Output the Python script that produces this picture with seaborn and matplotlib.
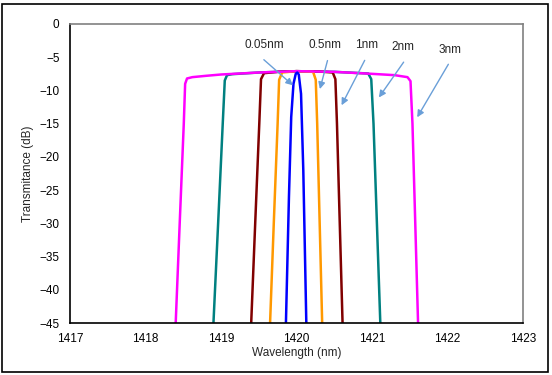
# Espectro de transmitancia de filtros (0.05nm - 3nm)
import matplotlib
matplotlib.use("Agg")
import matplotlib.pyplot as plt
from matplotlib.patches import Rectangle
import seaborn as sns
import pandas as pd

# Datos
x_3nm = [1418.40, 1418.453, 1418.507, 1418.525, 1418.55, 1418.62, 1418.8, 1419.0, 1419.5, 1420.0, 1420.5, 1421.0, 1421.3, 1421.47, 1421.51, 1421.536, 1421.573, 1421.61]
y_3nm = [-45.0, -30.0, -15.0, -9.0, -8.2, -8.0, -7.8, -7.6, -7.3, -7.1, -7.2, -7.5, -7.7, -8.0, -8.6, -15.0, -30.0, -45.0]

x_2nm = [1418.90, 1418.962, 1419.023, 1419.05, 1419.08, 1419.15, 1419.5, 1420.0, 1420.5, 1420.95, 1420.99, 1421.02, 1421.065, 1421.11]
y_2nm = [-45.0, -30.0, -15.0, -8.5, -7.7, -7.55, -7.3, -7.1, -7.2, -7.45, -8.3, -15.0, -30.0, -45.0]

x_1nm = [1419.40, 1419.453, 1419.507, 1419.53, 1419.57, 1419.75, 1420.0, 1420.3, 1420.48, 1420.515, 1420.536, 1420.573, 1420.61]
y_1nm = [-45.0, -30.0, -15.0, -8.3, -7.4, -7.2, -7.1, -7.15, -7.3, -8.3, -15.0, -30.0, -45.0]

x_05nm = [1419.65, 1419.699, 1419.75, 1419.77, 1419.81, 1420.0, 1420.22, 1420.255, 1420.274, 1420.307, 1420.34]
y_05nm = [-45.0, -30.0, -15.0, -8.4, -7.3, -7.1, -7.2, -8.4, -15.0, -30.0, -45.0]

x_005nm = [1419.86, 1419.90, 1419.93, 1419.96, 1419.99, 1420.01, 1420.03, 1420.06, 1420.09, 1420.13]
y_005nm = [-45.0, -26.0, -14.0, -9.0, -7.5, -7.3, -7.6, -10.5, -22.0, -45.0]

# Etiquetas: (texto, posicion texto, cola flecha, punta flecha)
etiquetas = ["0.05nm", "0.5nm", "1nm", "2nm", "3nm"]
texto_xy = [(1419.58, -3.2), (1420.38, -3.2), (1420.93, -3.2), (1421.41, -3.5), (1422.03, -3.9)]
cola_xy = [(1419.54, -5.1), (1420.42, -5.1), (1420.92, -5.1), (1421.44, -5.4), (1422.03, -5.7)]
punta_xy = [(1419.98, -9.5), (1420.30, -10.2), (1420.58, -12.6), (1421.07, -11.4), (1421.58, -14.4)]

# Orden de dibujo: magenta encima de las demas, azul al final
series = [
    (x_2nm, y_2nm, "#008080"),
    (x_1nm, y_1nm, "#800000"),
    (x_05nm, y_05nm, "#ff9900"),
    (x_3nm, y_3nm, "#ff00ff"),
    (x_005nm, y_005nm, "#0000ff"),
]

sns.set_style("white")
plt.rcParams['font.family'] = ['Liberation Sans', 'DejaVu Sans']

fig = plt.figure(figsize=(5.52, 3.75), dpi=100)
ax = fig.add_axes([70/552, 1 - 323/375, (523 - 70)/552, (323 - 24)/375])

for xs, ys, color in series:
    df = pd.DataFrame({"x": xs, "y": ys})
    sns.lineplot(data=df, x="x", y="y", sort=False, color=color, linewidth=1.8, ax=ax)

ax.set_xlim(1417, 1423)
ax.set_ylim(-45, 0)
ax.set_xticks(range(1417, 1424))
ax.set_yticks(range(-45, 1, 5))
ax.tick_params(direction='inout', length=7, width=1, labelsize=8.5, colors='black', pad=4)
ax.set_xlabel("Wavelength (nm)", fontsize=8.5, labelpad=1)
ax.set_ylabel("Transmitance (dB)", fontsize=8.5, labelpad=4)

for lado in ['left', 'bottom']:
    ax.spines[lado].set_color('black')
    ax.spines[lado].set_linewidth(1.2)
for lado in ['top', 'right']:
    ax.spines[lado].set_color('#808080')
    ax.spines[lado].set_linewidth(1.2)

for txt, pos, cola, punta in zip(etiquetas, texto_xy, cola_xy, punta_xy):
    ax.text(pos[0], pos[1], txt, fontsize=8.5, ha='center', va='center')
    ax.annotate('', xy=punta, xytext=cola,
                arrowprops=dict(arrowstyle='-|>', color='#6a9fd8', lw=1, mutation_scale=10))

# Borde exterior del grafico
fig.patches.append(Rectangle((2/552, 1 - 372/375), 546/552, 368/375, fill=False,
                             edgecolor='black', linewidth=1.2, transform=fig.transFigure))

fig.savefig("out.png", dpi=100)
